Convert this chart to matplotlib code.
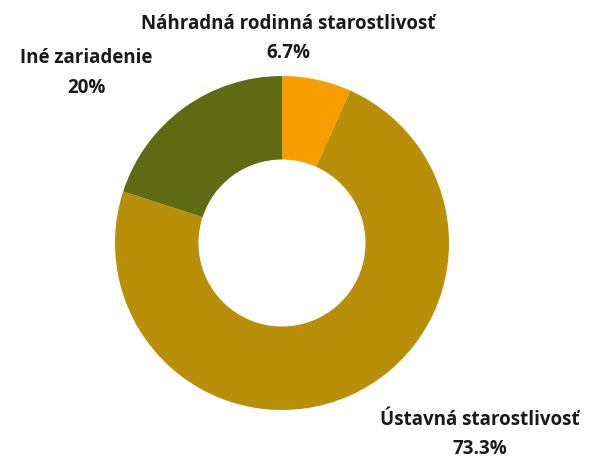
import matplotlib

matplotlib.use("Agg")
import matplotlib.pyplot as plt

plt.rcParams["font.family"] = ["Open Sans", "DejaVu Sans"]

categories = ["Náhradná rodinná starostlivosť", "Ústavná starostlivosť", "Iné zariadenie"]
shares = [6.7, 73.3, 20.0]
share_labels = ["6.7%", "73.3%", "20%"]
colors = ["#F79D00", "#B88F06", "#5E6B13"]

W, H = 595, 459
fig = plt.figure(figsize=(W / 100, H / 100), dpi=100)
ax = fig.add_axes([0, 0, 1, 1])
ax.set_xlim(0, W)
ax.set_ylim(0, H)
ax.axis("off")

cx, cy, r = 282, H - 243, 167
ax.pie(shares, colors=colors, startangle=90, counterclock=False,
       center=(cx, cy), radius=r, frame=True,
       wedgeprops=dict(width=r * 0.5, linewidth=0))
ax.set_xlim(0, W)
ax.set_ylim(0, H)
ax.axis("off")

# label positions (pixel coords, y from top)
label_pos = [(288, 24, 53), (480, 420, 449), (86, 58, 88)]
for name, pct, (x, y1, y2) in zip(categories, share_labels, label_pos):
    ax.text(x, H - y1, name, ha="center", va="center", fontsize=13.5,
            fontweight="bold", color="#1a1a1a")
    ax.text(x, H - y2, pct, ha="center", va="center", fontsize=13.5,
            fontweight="bold", color="#1a1a1a")

fig.savefig("out.png", dpi=100)
